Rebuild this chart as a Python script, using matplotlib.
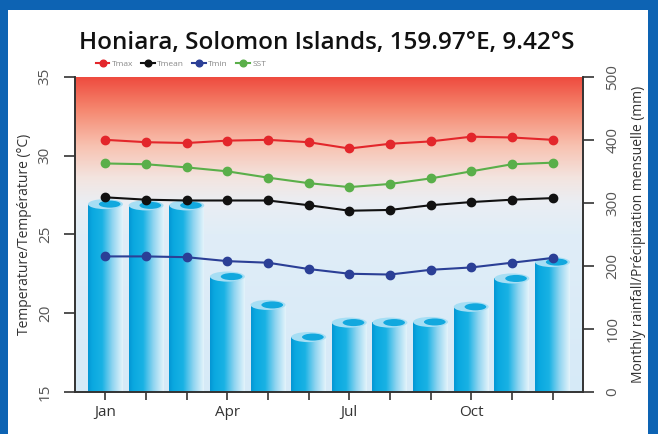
import numpy as np
import matplotlib
matplotlib.use("Agg")
import matplotlib.pyplot as plt
from matplotlib.colors import LinearSegmentedColormap
from matplotlib.patches import Ellipse, Rectangle

# ------------------------------------------------------------
# Data
# ------------------------------------------------------------
months = ['Jan', 'Feb', 'Mar', 'Apr', 'May', 'Jun',
          'Jul', 'Aug', 'Sep', 'Oct', 'Nov', 'Dec']
tick_labels = ['Jan', '', '', 'Apr', '', '', 'Jul', '', '', 'Oct', '', '']
tmax = [31.0, 30.85, 30.8, 30.95, 31.0, 30.85, 30.45, 30.75, 30.9, 31.2, 31.15, 31.0]
tmean = [27.35, 27.2, 27.15, 27.15, 27.15, 26.85, 26.5, 26.55, 26.85, 27.05, 27.2, 27.3]
tmin = [23.6, 23.6, 23.55, 23.3, 23.2, 22.8, 22.5, 22.45, 22.75, 22.9, 23.2, 23.5]
sst = [29.5, 29.45, 29.25, 29.0, 28.6, 28.25, 28.0, 28.2, 28.55, 29.0, 29.45, 29.55]
rain = [298, 296, 296, 183, 138, 87, 110, 110, 111, 135, 180, 206]

plt.rcParams['font.family'] = ['Open Sans', 'DejaVu Sans']

x = np.arange(len(months))
bar_w = 0.86
ell_h = 16  # ellipse height in mm units

fig = plt.figure(figsize=(6.58, 4.34), dpi=100)
ax_t = fig.add_axes([0.114, 0.097, 0.772, 0.726])
ax_r = ax_t.twinx()
ax_r.set_zorder(1)
ax_t.set_zorder(2)
ax_t.patch.set_visible(False)

# background gradient (red top -> pale -> light blue)
bg = LinearSegmentedColormap.from_list('bg', [
    (0.0, '#d6eaf8'), (0.5, '#e0edf7'), (0.6, '#eaeef3'),
    (0.68, '#f3e4df'), (0.78, '#f8c2b1'), (0.9, '#f5856d'), (1.0, '#ee4a3e')])
grad = np.linspace(0, 1, 256).reshape(-1, 1)
ax_r.imshow(grad, cmap=bg, origin='lower', aspect='auto',
            extent=[0, 1, 0, 1], transform=ax_r.transAxes, zorder=0)

# cylinder bars
cyl = LinearSegmentedColormap.from_list('cyl', [
    (0.0, '#0596d3'), (0.12, '#0aa8e0'), (0.4, '#19b2e4'),
    (0.7, '#8fd4f0'), (1.0, '#e4f4fb')])
hgrad = np.linspace(0, 1, 128).reshape(1, -1)
for xi, r in zip(x, rain):
    ax_r.imshow(hgrad, cmap=cyl, aspect='auto', zorder=2,
                extent=[xi - bar_w / 2, xi + bar_w / 2, 0, r])
    ax_r.add_patch(Ellipse((xi, r), bar_w, ell_h, facecolor='#a6def4',
                           edgecolor='none', zorder=3))
    ax_r.add_patch(Ellipse((xi + bar_w * 0.12, r), bar_w * 0.62, ell_h * 0.7,
                           facecolor='#12a8de', edgecolor='none', zorder=4))

ax_r.set_xlim(-0.75, 11.75)
ax_r.set_ylim(0, 500)
ax_r.set_yticks([0, 100, 200, 300, 400, 500])
ax_r.set_ylabel('Monthly rainfall/Précipitation mensuelle (mm)',
                fontsize=10, color='#333333', rotation=90, labelpad=8)

# temperature lines
series = [(tmax, '#e3262b', 'Tmax'), (tmean, '#111111', 'Tmean'),
          (tmin, '#2b3f96', 'Tmin'), (sst, '#5aaf4a', 'SST')]
for vals, col, lab in series:
    ax_t.plot(x, vals, color=col, lw=1.5, marker='o', markersize=6,
              label=lab, zorder=5)

ax_t.set_xlim(-0.75, 11.75)
ax_t.set_ylim(15, 35)
ax_t.set_yticks([15, 20, 25, 30, 35])
ax_t.set_xticks(x)
ax_t.set_xticklabels(tick_labels)
ax_t.set_ylabel('Temperature/Température (°C)', fontsize=10, color='#333333',
                labelpad=4)

for a in (ax_t, ax_r):
    a.spines['top'].set_visible(False)
    for s in ('left', 'right', 'bottom'):
        a.spines[s].set_color('#333333')
        a.spines[s].set_linewidth(1.2)
    a.tick_params(axis='y', labelrotation=90, labelsize=11, labelcolor='#555555',
                  length=8, width=1.2, color='#333333', direction='out', pad=8)
ax_t.tick_params(axis='x', labelsize=11, labelcolor='#333333', length=6,
                 width=1.2, color='#333333', direction='out')
for lbl in ax_t.get_yticklabels() + ax_r.get_yticklabels():
    lbl.set_va('center')

fig.legend(loc='center', bbox_to_anchor=(0.275, 0.853), ncol=4, frameon=False,
           fontsize=6, handlelength=1.6, columnspacing=1.0, handletextpad=0.3,
           labelcolor='#888888', markerscale=0.8)

fig.text(0.497, 0.902, 'Honiara, Solomon Islands, 159.97°E, 9.42°S',
         ha='center', va='center', fontsize=17.5, fontweight='semibold',
         color='#111111')

# blue frame
frame_col = '#0d63b3'
fig.patches.append(Rectangle((0, 0), 0.012, 1, transform=fig.transFigure,
                             facecolor=frame_col, edgecolor='none', zorder=10))
fig.patches.append(Rectangle((0, 0.977), 1, 0.023, transform=fig.transFigure,
                             facecolor=frame_col, edgecolor='none', zorder=10))
fig.patches.append(Rectangle((0.985, 0), 0.015, 1, transform=fig.transFigure,
                             facecolor=frame_col, edgecolor='none', zorder=10))

fig.savefig('out.png', dpi=100)
